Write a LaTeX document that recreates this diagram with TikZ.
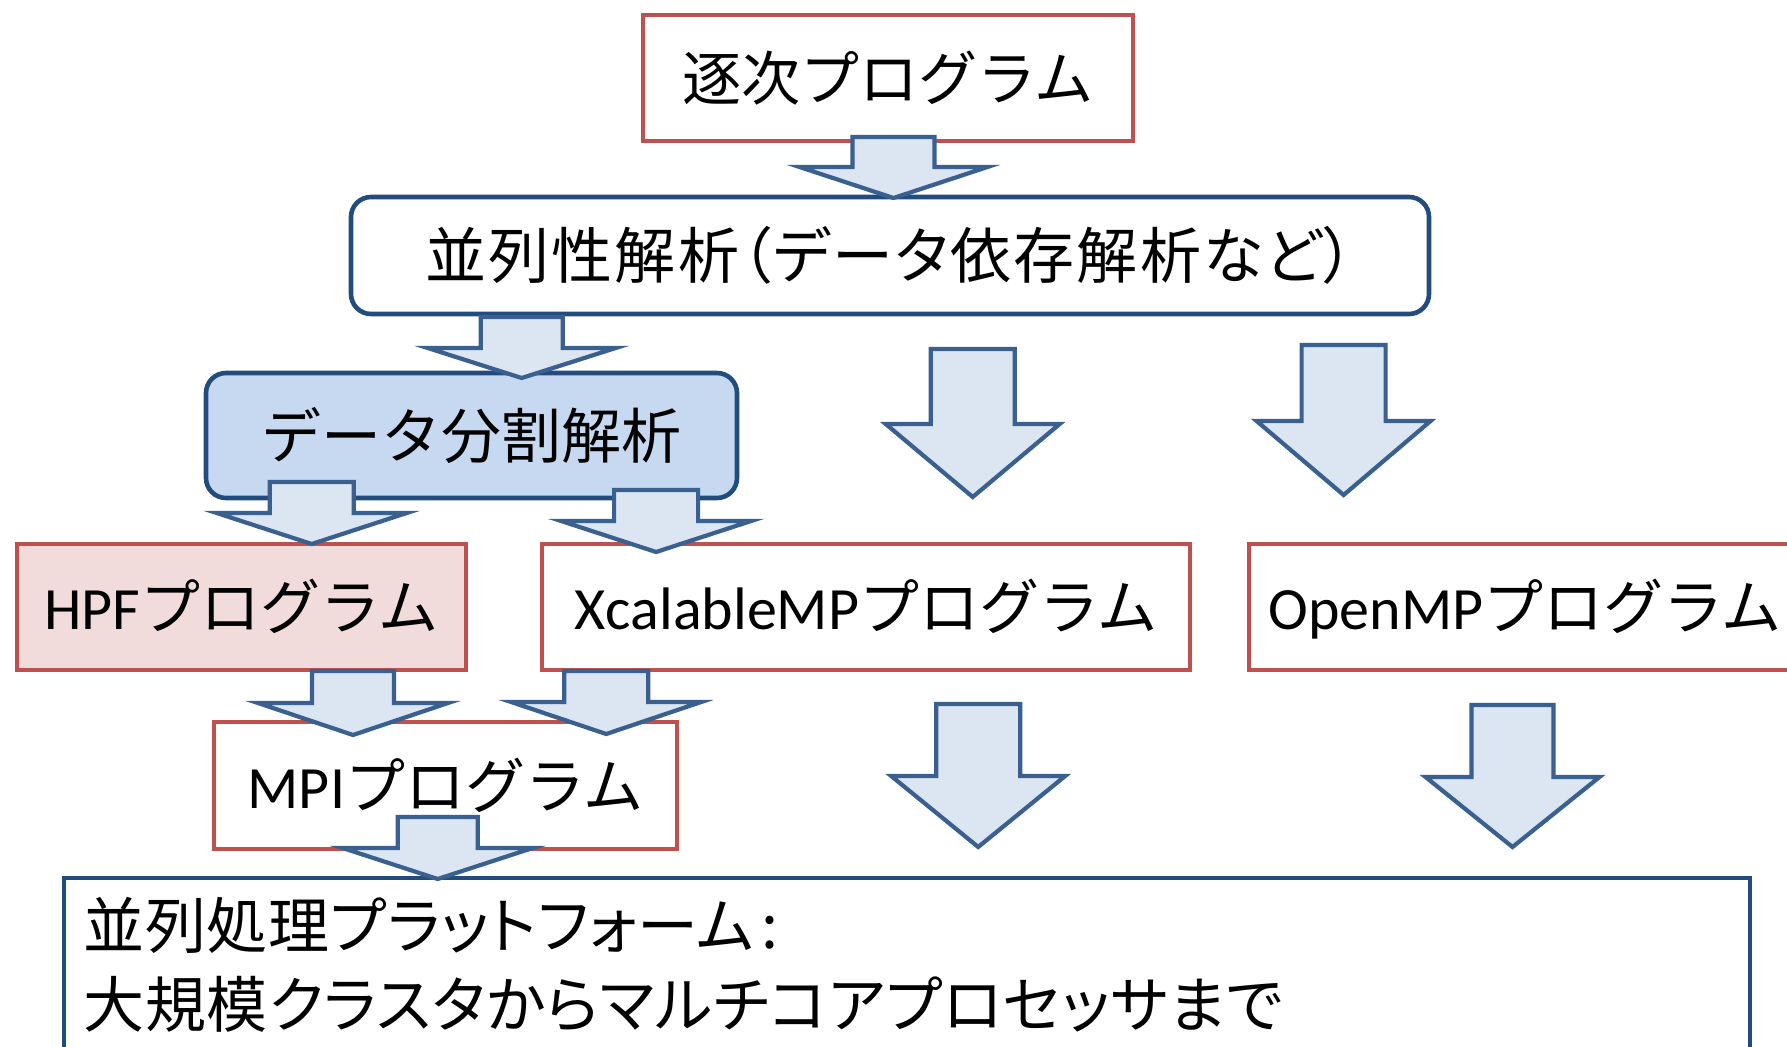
\documentclass[tikz,border=0pt]{standalone}
\usepackage{fontspec}
\setmainfont{Noto Sans CJK JP}
\newfontfamily\lat{Carlito}
\newfontfamily\prop[RawFeature=+palt]{Noto Sans CJK JP}
\newfontfamily\propwide[RawFeature=+palt, LetterSpace=3.5]{Noto Sans CJK JP}
\newfontfamily\propsoft[RawFeature=+palt, LetterSpace=1.3]{Noto Sans CJK JP}
\definecolor{redline}{HTML}{C0504D}
\definecolor{navyline}{HTML}{234C7E}
\definecolor{arrowline}{HTML}{3A6090}
\definecolor{arrowfill}{HTML}{DCE6F2}
\definecolor{bluefill}{HTML}{C6D9F1}
\definecolor{pinkfill}{HTML}{F2DCDB}

% down-pointing block arrow: centre x, top y, half shaft width, wing y, half wing width, tip y
\newcommand\blockarrow[6]{%
  \draw[arrowbody] ({#1-#3},#2) -- ({#1+#3},#2) -- ({#1+#3},#4) -- ({#1+#5},#4)
    -- (#1,#6) -- ({#1-#5},#4) -- ({#1-#3},#4) -- cycle;}

\begin{document}
\begin{tikzpicture}[x=0.5pt,y=-0.5pt,
  boxtext/.style={inner sep=0pt, text height=26.4pt, text depth=3.6pt,
    font=\fontsize{30}{36}\selectfont},
  redbox/.style={boxtext, draw=redline, line width=2.1pt, fill=white},
  roundbox/.style={boxtext, draw=navyline, line width=2.3pt, rounded corners=10pt, fill=white},
  arrowbody/.style={draw=arrowline, fill=arrowfill, line width=2.1pt, line join=miter},
  plattext/.style={inner sep=0pt, anchor=base west, font=\propsoft\fontsize{30.5}{36}\selectfont}]
\useasboundingbox (0,0) rectangle (1787,1047);
\clip (0,0) rectangle (1787,1047);

% boxes
\node[redbox, minimum width=245pt, minimum height=63pt,
  font=\fontsize{29.5}{36}\selectfont] (seq) at (888,78) {逐次プログラム};
\node[roundbox, minimum width=539pt, minimum height=58.5pt,
  font=\propwide\fontsize{30.5}{36}\selectfont] (dep) at (890,255.5) {並列性解析（データ依存解析など）};
\node[roundbox, fill=bluefill, minimum width=265.5pt, minimum height=62.5pt]
  (part) at (471.5,435.5) {データ分割解析};
\node[redbox, fill=pinkfill, minimum width=224.5pt, minimum height=63pt]
  (hpf) at (241.5,607) {{\lat HPF}プログラム};
\node[redbox, minimum width=324pt, minimum height=63pt]
  (xmp) at (866,607) {{\lat XcalableMP}プログラム};
\node[redbox, minimum width=276pt, minimum height=63pt]
  (omp) at (1525,607) {{\lat OpenMP}プログラム};
\node[redbox, minimum width=231.5pt, minimum height=63.5pt]
  (mpi) at (445.5,785.5) {{\lat MPI}プログラム};
\node[draw=navyline, line width=2.1pt, fill=white, inner sep=0pt,
  minimum width=843pt, minimum height=101pt] (plat) at (907,979) {};
\node[plattext] (platA) at (83,948) {並列処理プラットフォーム\kern4pt:};
\node[plattext] (platB) at (83,1027) {大規模クラスタからマルチコアプロセッサまで};

% block arrows
\blockarrow{893.5}{137}{41}{167}{94}{198}
\blockarrow{521.7}{317}{41}{348}{94}{378}
\blockarrow{972.7}{349}{42}{424}{87}{497}
\blockarrow{1343.6}{345}{42}{421}{87}{495}
\blockarrow{311.7}{482}{42}{513}{95}{544}
\blockarrow{656.1}{490}{42}{521}{95}{552}
\blockarrow{353}{671}{41}{703}{95}{735}
\blockarrow{606.2}{671}{42}{702}{95}{734}
\blockarrow{978.2}{704}{42}{776}{87}{847}
\blockarrow{1512.5}{705}{41}{777}{87}{847}
\blockarrow{437.7}{817}{40}{848}{95}{879}
\end{tikzpicture}
\end{document}
